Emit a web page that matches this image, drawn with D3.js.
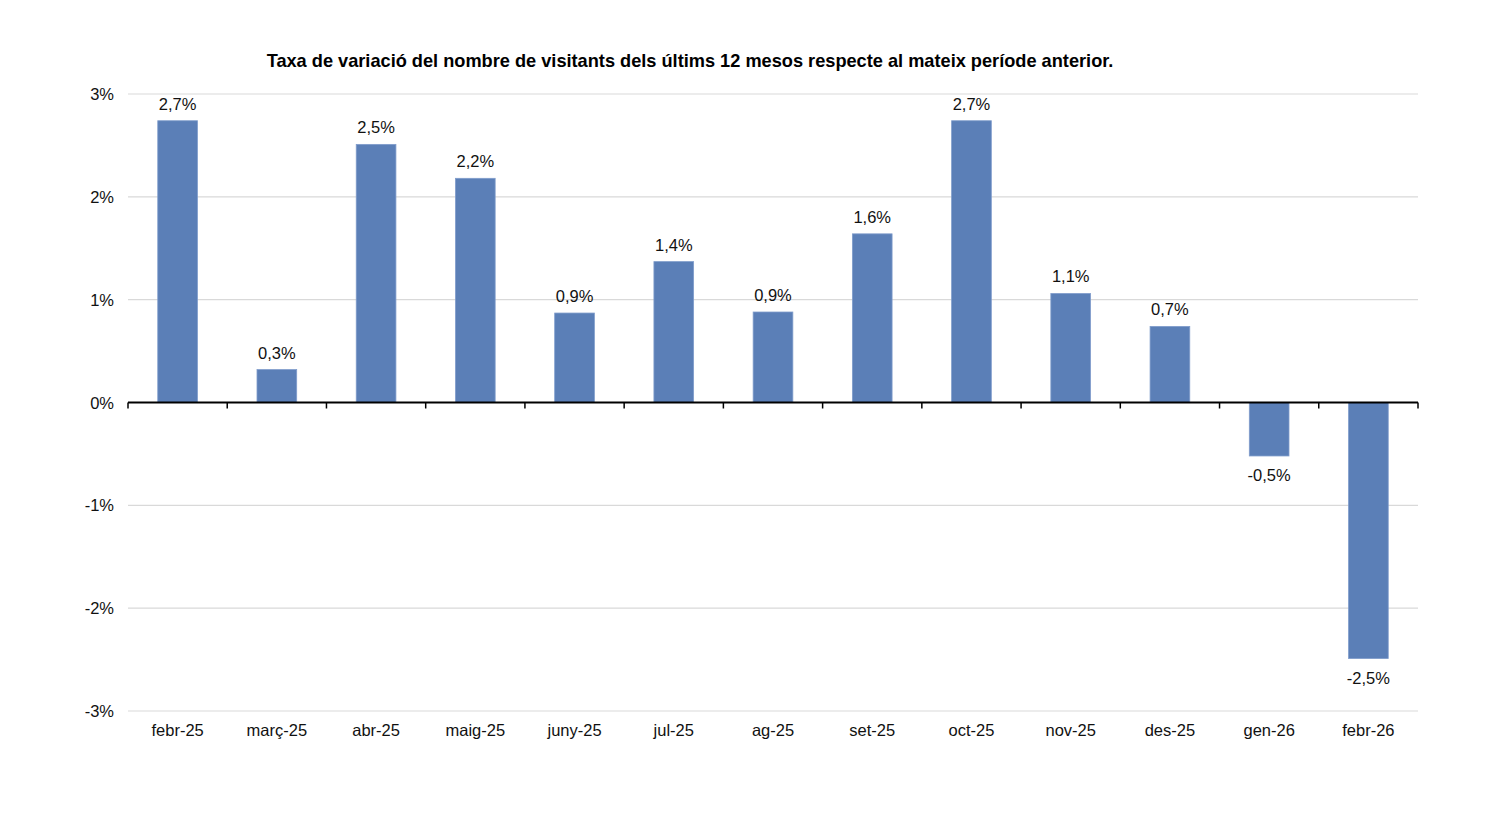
<!DOCTYPE html>
<html lang="ca">
<head>
<meta charset="UTF-8">
<title>Taxa de variació visitants</title>
<script src="https://d3js.org/d3.v7.min.js"></script>
<style>
    body { margin: 0; background: #fff; font-family: "Liberation Sans", Arial, sans-serif; }
    .grid line { stroke: #d9d9d9; stroke-width: 1.2; }
    .label { font-size: 16.5px; fill: #111; }
</style>
</head>
<body>
<div id="chart"></div>
<script>
    // data
    const months = ["febr-25", "març-25", "abr-25", "maig-25", "juny-25", "jul-25", "ag-25",
                    "set-25", "oct-25", "nov-25", "des-25", "gen-26", "febr-26"];
    const rates = [2.74, 0.32, 2.51, 2.18, 0.87, 1.37, 0.88, 1.64, 2.74, 1.06, 0.74, -0.52, -2.49];
    const yTicks = [-3, -2, -1, 0, 1, 2, 3];
    const title = "Taxa de variació del nombre de visitants dels últims 12 mesos respecte al mateix període anterior.";

    const W = 1496, H = 820;
    const margin = { top: 94, right: 78, bottom: 109, left: 128 };
    const width = W - margin.left - margin.right;
    const height = H - margin.top - margin.bottom;

    const svg = d3.select("#chart").append("svg")
        .attr("width", W)
        .attr("height", H);

    svg.append("text")
        .attr("x", 690)
        .attr("y", 67)
        .attr("text-anchor", "middle")
        .style("font-size", "18.2px")
        .style("font-weight", "bold")
        .text(title);

    const g = svg.append("g").attr("transform", `translate(${margin.left},${margin.top})`);

    const x = d3.scaleBand().domain(months).range([0, width]).paddingInner(0.6).paddingOuter(0.3);
    const y = d3.scaleLinear().domain([-3, 3]).range([height, 0]);

    // gridlines
    g.append("g").attr("class", "grid")
        .selectAll("line").data(yTicks.filter(d => d !== 0)).enter().append("line")
        .attr("x1", 0).attr("x2", width)
        .attr("y1", d => y(d)).attr("y2", d => y(d));

    // y labels
    g.append("g").selectAll("text").data(yTicks).enter().append("text")
        .attr("class", "label")
        .attr("x", -14)
        .attr("y", d => y(d) + 6)
        .attr("text-anchor", "end")
        .text(d => d + "%");

    // bars
    g.append("g").selectAll("rect").data(months).enter().append("rect")
        .attr("x", d => x(d))
        .attr("width", x.bandwidth())
        .attr("y", (d, i) => y(Math.max(0, rates[i])))
        .attr("height", (d, i) => Math.abs(y(rates[i]) - y(0)))
        .attr("fill", "#5b7fb7")
        .attr("stroke", "#7f9ccb")
        .attr("stroke-width", 0.8);

    // value labels
    const fmt = v => v.toFixed(1).replace(".", ",") + "%";
    g.append("g").selectAll("text").data(months).enter().append("text")
        .attr("class", "label")
        .attr("x", d => x(d) + x.bandwidth() / 2)
        .attr("y", (d, i) => rates[i] >= 0 ? y(rates[i]) - 11 : y(rates[i]) + 25)
        .attr("text-anchor", "middle")
        .text((d, i) => fmt(rates[i]));

    // zero axis with ticks at band edges
    const edges = d3.range(months.length + 1).map(i => i * width / months.length);
    g.append("line")
        .attr("x1", 0).attr("x2", width)
        .attr("y1", y(0)).attr("y2", y(0))
        .attr("stroke", "#000").attr("stroke-width", 2);
    g.append("g").selectAll("line").data(edges).enter().append("line")
        .attr("x1", d => d).attr("x2", d => d)
        .attr("y1", y(0)).attr("y2", y(0) + 6)
        .attr("stroke", "#000").attr("stroke-width", 1.5);

    // category labels at the bottom
    g.append("g").selectAll("text").data(months).enter().append("text")
        .attr("class", "label")
        .attr("x", d => x(d) + x.bandwidth() / 2)
        .attr("y", height + 25)
        .attr("text-anchor", "middle")
        .text(d => d);
</script>
</body>
</html>
